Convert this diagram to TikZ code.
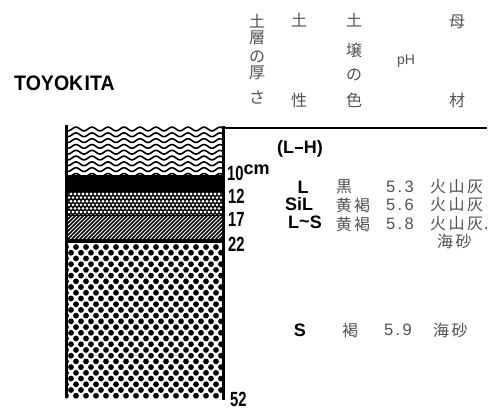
\documentclass[tikz,border=0pt]{standalone}
\usepackage{fontspec}
\setmainfont{Liberation Sans}
\newfontfamily\cjk{Noto Sans CJK JP}
\definecolor{ink}{gray}{0.32}
\newcommand\chgap{\kern2.5pt}
\newcommand\dgap{\kern2.4pt}
\begin{document}
\begin{tikzpicture}[x=1pt,y=-1pt,
  hdr/.style={font=\cjk\fontsize{16}{16}\selectfont, text=ink, inner sep=0pt},
  cjkdat/.style={font=\cjk\fontsize{16}{16}\selectfont, text=ink, inner sep=0pt},
  numdat/.style={font=\fontsize{16.5}{16.5}\selectfont, text=ink, inner sep=0pt},
  texture/.style={font=\bfseries\fontsize{18}{18}\selectfont, inner sep=0pt},
  depth/.style={font=\bfseries\fontsize{20.5}{20.5}\selectfont, inner sep=0pt, anchor=base west},
  border/.style={line width=2.8pt}]
\useasboundingbox (0,0) rectangle (493,410);

% ---------- soil column ----------
\coordinate (tl) at (66,126);
\coordinate (br) at (224,398);

% humus layer: wavy lines
\begin{scope}
  \clip (66,126) rectangle (224,175);
  \foreach \k in {0,...,8}
    \draw[line width=1.6pt] plot[domain=60:230,samples=90,smooth]
      (\x,{129+\k*5.8+1.9*sin(\x*22.5)});
\end{scope}

% black layer
\fill (66,175) rectangle (224,192);

% fine halftone layer
\fill (66,192) rectangle (224,215);
\begin{scope}
  \clip (66,192) rectangle (224,215);
  \foreach \i in {0,...,6} {
    \pgfmathsetmacro\yy{194+\i*3.6}
    \pgfmathsetmacro\xo{67+mod(\i,2)*2}
    \foreach \j in {0,...,40}
      \fill[white] (\xo+\j*4,\yy) circle (1.55);
  }
\end{scope}

% hatched layer
\begin{scope}
  \clip (66,215) rectangle (224,242);
  \foreach \s in {-40,-36,...,232}
    \draw[line width=1.5pt] (\s,243) -- (\s+28,215);
  \draw[line width=1pt] (66,215.5) -- (224,215.5);
\end{scope}
\fill (66,239) rectangle (224,243);

% sand layer: large dots
\begin{scope}
  \clip (66,243) rectangle (224,398);
  \foreach \i in {0,...,26} {
    \pgfmathsetmacro\yy{247+\i*5.72}
    \pgfmathsetmacro\xo{66+mod(\i,2)*5}
    \foreach \j in {0,...,16}
      \fill (\xo+\j*10,\yy) circle (2.9);
  }
\end{scope}

% column borders and top rule
\draw[border,line width=3pt] (66,125) -- (66,398);
\draw[border] (223.5,126) -- (223.5,400);
\draw[border,line width=2.4pt] (222,128) -- (487,128);

% ---------- title ----------
\node[font=\bfseries\fontsize{21}{21}\selectfont, anchor=base west, inner sep=0pt]
  (site) at (14,90) {\scalebox{0.93}[1]{TOYOK\kern1.5pt ITA}};

% ---------- column headings ----------
\node[hdr] (h1a) at (257,21) {土};
\node[hdr] (h1b) at (257,38) {層};
\node[hdr] (h1c) at (257,57) {の};
\node[hdr] (h1d) at (257,73) {厚};
\node[hdr] (h1e) at (257,97) {さ};
\node[hdr] (h2a) at (299,20) {土};
\node[hdr] (h2b) at (299,100) {性};
\node[hdr] (h3a) at (354,20) {土};
\node[hdr] (h3b) at (354,50) {壌};
\node[hdr] (h3c) at (354,75) {の};
\node[hdr] (h3d) at (354,100) {色};
\node[numdat,font=\fontsize{14}{14}\selectfont] (h4) at (406,61) {pH};
\node[hdr] (h5a) at (457,22) {母};
\node[hdr] (h5b) at (457,100) {材};

% ---------- depth labels ----------
\node[depth] (d10) at (227,180) {\scalebox{0.72}[1]{10}\raisebox{6pt}{\fontsize{18}{18}\selectfont cm}};
\node[depth] (d12) at (228,203) {\scalebox{0.72}[1]{12}};
\node[depth] (d17) at (228,226) {\scalebox{0.72}[1]{17}};
\node[depth] (d22) at (228,251) {\scalebox{0.72}[1]{22}};
\node[depth] (d52) at (230,406) {\scalebox{0.72}[1]{52}};

% ---------- horizon data ----------
\node[texture,font=\bfseries\fontsize{18}{18}\selectfont] (lh) at (300,149) {(L\kern0.5pt\rule[4.5pt]{9pt}{2pt}\kern0.5pt H)};

\node[texture] (t1) at (303,187) {L};
\node[texture] (t2) at (299,204) {SiL};
\node[texture] (t3) at (305,222) {L\raisebox{1pt}{\textasciitilde}S};
\node[texture] (t4) at (300,330) {S};

\node[cjkdat] (c1) at (344,187) {黒};
\node[cjkdat] (c2) at (353,205) {黄\chgap 褐};
\node[cjkdat] (c3) at (353,224) {黄\chgap 褐};
\node[cjkdat] (c4) at (350,330) {褐};

\node[numdat] (p1) at (400,187) {5\dgap.\dgap 3};
\node[numdat] (p2) at (400,205) {5\dgap.\dgap 6};
\node[numdat] (p3) at (400,224) {5\dgap.\dgap 8};
\node[numdat] (p4) at (398,330) {5\dgap.\dgap 9};

\node[cjkdat,anchor=west] (m1) at (430,187) {火\chgap 山\chgap 灰};
\node[cjkdat,anchor=west] (m2) at (430,205) {火\chgap 山\chgap 灰};
\node[cjkdat,anchor=west] (m3) at (430,224) {火\chgap 山\chgap 灰\kern1pt.};
\node[cjkdat,anchor=west] (m3b) at (437,241) {海\chgap 砂};
\node[cjkdat,anchor=west] (m4) at (433,330) {海\chgap 砂};
\end{tikzpicture}
\end{document}
